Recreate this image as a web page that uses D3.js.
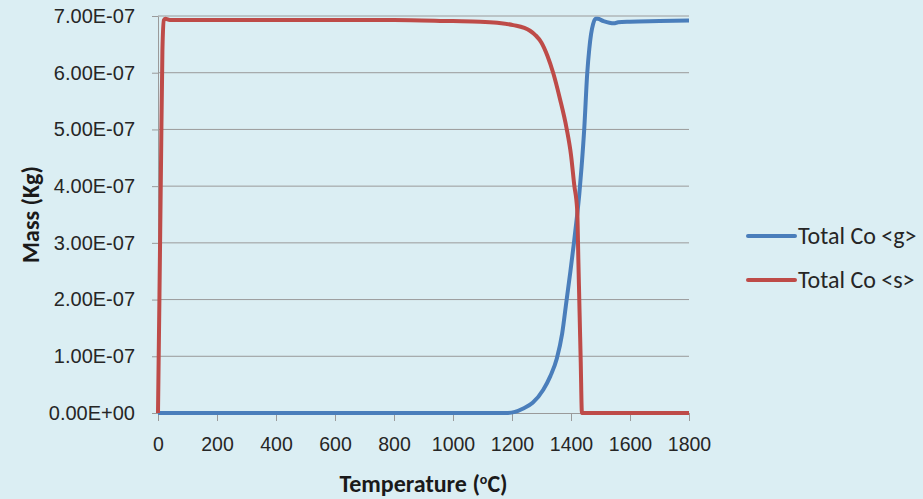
<!DOCTYPE html>
<html>
<head>
<meta charset="utf-8">
<script src="https://cdn.jsdelivr.net/npm/d3@7"></script>
<style>
  html, body { margin: 0; padding: 0; background: #dbeef3; }
  svg { display: block; font-family: Carlito, Calibri, Lato, "Open Sans", sans-serif; }
</style>
</head>
<body>
<div id="chart"></div>
<script>
// mass values in units of 1e-7 kg
const gasTemps = [0, 1180, 1210, 1238, 1270, 1306, 1330, 1352, 1370, 1385, 1398, 1410, 1420, 1428, 1436, 1445, 1455, 1462, 1468, 1475, 1483, 1490, 1510, 1530, 1545, 1560, 1600, 1700, 1800];
const gasMass = [0, 0, 0.02, 0.08, 0.18, 0.41, 0.65, 0.96, 1.40, 1.99, 2.50, 3.00, 3.45, 3.85, 4.35, 5.02, 5.99, 6.42, 6.68, 6.86, 6.95, 6.95, 6.91, 6.88, 6.87, 6.89, 6.90, 6.91, 6.92];

const solidTemps = [0, 5, 10, 15, 20, 25, 40, 100, 800, 1000, 1092, 1150, 1204, 1261, 1280, 1300, 1320, 1340, 1362, 1385, 1400, 1411, 1421, 1425, 1429, 1433, 1437, 1800];
const solidMass = [0, 2.1, 4.3, 6.4, 6.93, 6.95, 6.93, 6.93, 6.93, 6.91, 6.90, 6.88, 6.84, 6.74, 6.66, 6.53, 6.30, 5.99, 5.55, 5.02, 4.55, 4.02, 3.58, 2.69, 1.79, 0.90, 0, 0];

const xTicks = [0, 200, 400, 600, 800, 1000, 1200, 1400, 1600, 1800];
const yTicks = [0, 1e-7, 2e-7, 3e-7, 4e-7, 5e-7, 6e-7, 7e-7];

const series = [
  { name: "Total Co <g>", color: "#4a7ebb", temps: gasTemps, mass: gasMass },
  { name: "Total Co <s>", color: "#be4b48", temps: solidTemps, mass: solidMass }
];

const width = 923, height = 499;
const margin = { top: 16, right: 234, bottom: 86, left: 158 };

const x = d3.scaleLinear().domain([0, 1800]).range([margin.left, width - margin.right]);
const y = d3.scaleLinear().domain([0, 7e-7]).range([height - margin.bottom, margin.top]);

function sci(v) {
  if (v === 0) return "0.00E+00";
  const [m, e] = d3.format(".2e")(v).split("e");
  const n = +e;
  return m + "E" + (n < 0 ? "-" : "+") + String(Math.abs(n)).padStart(2, "0");
}

const svg = d3.select("#chart").append("svg")
  .attr("width", width)
  .attr("height", height);

svg.append("rect").attr("width", width).attr("height", height).attr("fill", "#dbeef3");

// gridlines
svg.append("g")
  .selectAll("line")
  .data(yTicks.slice(1))
  .join("line")
  .attr("x1", x(0)).attr("x2", x(1800))
  .attr("y1", d => y(d)).attr("y2", d => y(d))
  .attr("stroke", "#9a9a9a").attr("stroke-width", 1);

const xAxis = svg.append("g")
  .attr("transform", `translate(0,${y(0)})`)
  .call(d3.axisBottom(x).tickValues(xTicks).tickFormat(d3.format("d"))
    .tickSize(8).tickSizeOuter(0).tickPadding(16));

const yAxis = svg.append("g")
  .attr("transform", `translate(${x(0)},0)`)
  .call(d3.axisLeft(y).tickValues(yTicks).tickFormat(sci).tickSize(6).tickSizeOuter(0).tickPadding(17));

[xAxis, yAxis].forEach(g => {
  g.select(".domain").attr("stroke", "#9a9a9a");
  g.selectAll(".tick line").attr("stroke", "#9a9a9a");
  g.selectAll(".tick text").attr("fill", "#262626");
});
xAxis.selectAll(".tick text").style("font-size", "19.5px");
yAxis.selectAll(".tick text").style("font-size", "20px");

const line = d3.line()
  .x(d => x(d[0]))
  .y(d => y(d[1] * 1e-7))
  .curve(d3.curveMonotoneX);

svg.append("g")
  .selectAll("path")
  .data(series)
  .join("path")
  .attr("fill", "none")
  .attr("stroke", d => d.color)
  .attr("stroke-width", 4)
  .attr("stroke-linejoin", "round")
  .attr("d", d => line(d3.zip(d.temps, d.mass)));

// axis titles
svg.append("text")
  .attr("x", (x(0) + x(1800)) / 2)
  .attr("y", 492)
  .attr("text-anchor", "middle")
  .attr("font-weight", "bold")
  .attr("font-size", 24)
  .attr("fill", "#1a1a1a")
  .html('Temperature (<tspan dy="-8" font-size="14">o</tspan><tspan dy="8">C)</tspan>');

svg.append("text")
  .attr("transform", `translate(39,${(y(0) + y(7e-7)) / 2}) rotate(-90)`)
  .attr("text-anchor", "middle")
  .attr("font-weight", "bold")
  .attr("font-size", 24)
  .attr("fill", "#1a1a1a")
  .text("Mass (Kg)");

// legend
const legend = svg.append("g")
  .selectAll("g")
  .data(series)
  .join("g")
  .attr("transform", (d, i) => `translate(748,${236 + i * 44})`);

legend.append("line")
  .attr("x1", 0).attr("x2", 47)
  .attr("stroke", d => d.color)
  .attr("stroke-width", 4)
  .attr("stroke-linecap", "round");

legend.append("text")
  .attr("x", 50)
  .attr("dy", "0.35em")
  .attr("font-size", 24)
  .attr("fill", "#262626")
  .text(d => d.name);
</script>
</body>
</html>
